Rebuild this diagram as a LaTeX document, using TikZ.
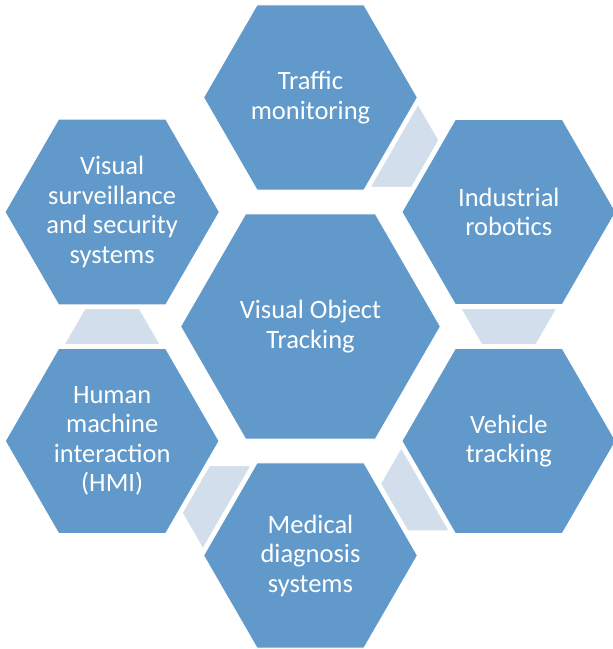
\documentclass[tikz,border=0pt]{standalone}
\usepackage{fontspec}
\setmainfont{Carlito}
\usepackage{tikz}
\usetikzlibrary{shapes.geometric, calc}
\usepackage{xcolor}
\definecolor{hexblue}{HTML}{6199CA}
\definecolor{linkblue}{HTML}{D3DEED}

\begin{document}
\begin{tikzpicture}[
    x=1pt, y=1pt,
    hexcell/.style={regular polygon, regular polygon sides=6, inner sep=0pt,
                    minimum size=214pt, fill=hexblue, draw=white, line width=1pt,
                    align=center, text=white, font=\fontsize{26.5}{29.5}\selectfont},
    hexcore/.style={hexcell, minimum size=260pt},
    link/.style={fill=linkblue, draw=white, line width=1pt}
]
\useasboundingbox (-310.5,-322.5) rectangle (302.5,326.5);

% centre cell and the ring of applications around it
\node[hexcore] (vot) at (0,0) {Visual Object\\Tracking};
\node[hexcell] (traffic) at (90:229)   {Traffic\\monitoring};
\node[hexcell] (robot)   at (30:229)   {Industrial\\robotics};
\node[hexcell] (vehicle) at (-30:229)  {Vehicle\\tracking};
\node[hexcell] (medical) at (-90:229)  {Medical\\diagnosis\\systems};
\node[hexcell] (hmi)     at (-150:229) {Human\\machine\\interaction\\(HMI)};
\node[hexcell] (surv)    at (150:229)  {Visual\\surveillance\\and security\\systems};

% small trapezoid links between neighbouring cells
\foreach \a/\b/\ang in {traffic/robot/-30, robot/vehicle/-90, vehicle/medical/-150,
                        medical/hmi/150, hmi/surv/90}{
  \begin{scope}[shift={($(\a)!0.5!(\b)$)}, rotate=\ang]
    \path[link] (-18,-48) -- (-18,48) -- (18,27.2) -- (18,-27.2) -- cycle;
  \end{scope}
}
\end{tikzpicture}
\end{document}
